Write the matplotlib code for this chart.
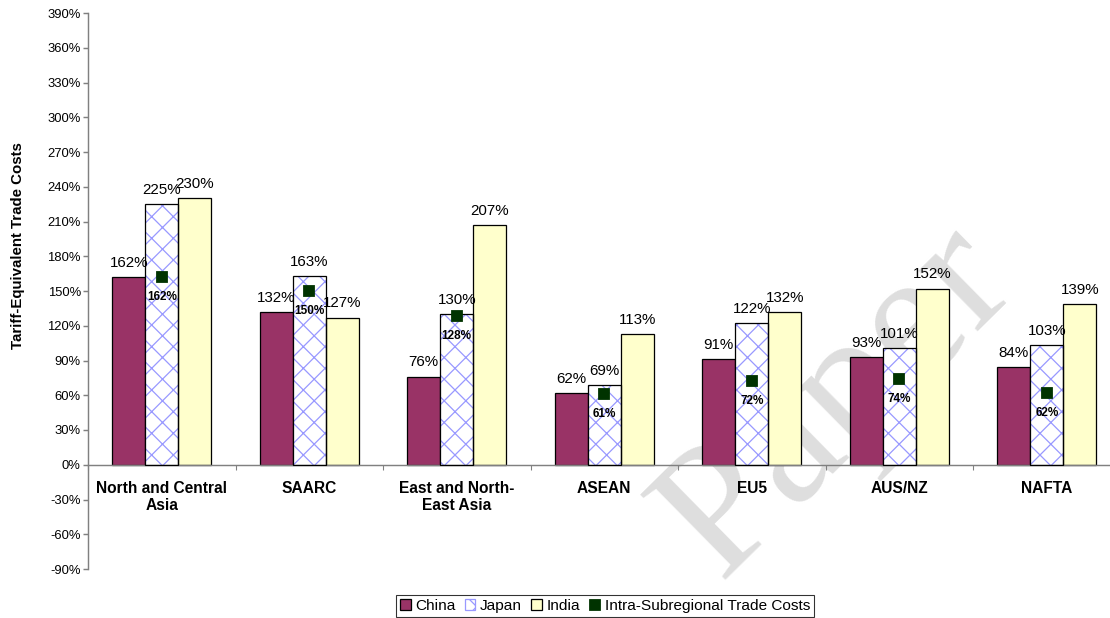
import numpy as np
import matplotlib.pyplot as plt
from matplotlib.patches import Patch
from matplotlib.lines import Line2D
from matplotlib.ticker import FuncFormatter, FixedLocator

plt.rcParams['font.family'] = ['Liberation Sans', 'DejaVu Sans']
plt.rcParams['hatch.linewidth'] = 0.7

regions = ['North and Central\nAsia', 'SAARC', 'East and North-\nEast Asia',
           'ASEAN', 'EU5', 'AUS/NZ', 'NAFTA']
china = [162, 132, 76, 62, 91, 93, 84]
japan = [225, 163, 130, 69, 122, 101, 103]
india = [230, 127, 207, 113, 132, 152, 139]
intra = [162, 150, 128, 61, 72, 74, 62]

x = np.arange(len(regions))
width = 0.224

fig = plt.figure(figsize=(1110 / 130, 618 / 130), dpi=130)
ax = fig.add_axes([88 / 1110, 49 / 618, 1 - 88 / 1110, 556 / 618])

# spine position first: moving it resets the ticks
for s in ['top', 'right']:
    ax.spines[s].set_visible(False)
ax.spines['bottom'].set_position(('data', 0))
ax.spines['left'].set_color('#808080')
ax.spines['bottom'].set_color('#808080')

# watermark behind the bars
ax.text(0.755, 0.35, 'Paper', transform=fig.transFigure, family='Liberation Serif',
        fontsize=102, color='#dedede', rotation=44.5, ha='center', va='center',
        zorder=0, clip_on=False)

ax.bar(x - width, china, width, color='#993366', edgecolor='black', lw=0.7, zorder=2)
ax.bar(x, japan, width, color='white', edgecolor='#9999ff', hatch='xx', lw=0, zorder=2)
ax.bar(x, japan, width, fill=False, edgecolor='black', lw=0.7, zorder=3)
ax.bar(x + width, india, width, color='#ffffcc', edgecolor='black', lw=0.7, zorder=2)
ax.plot(x, intra, 's', color='#003300', ms=5, zorder=4)

for xs, vals in [(x - width, china), (x, japan), (x + width, india)]:
    for xi, v in zip(xs, vals):
        ax.annotate(f'{v}%', (xi, v), xytext=(0, 4), textcoords='offset points',
                    ha='center', va='bottom', fontsize=8.4, zorder=5)
for xi, v in zip(x, intra):
    ax.annotate(f'{v}%', (xi, v), xytext=(0, -11), textcoords='offset points',
                ha='center', va='center', fontsize=6.5, fontweight='bold', zorder=5)

ax.set_ylim(-90, 390)
ax.set_xlim(-0.5, -0.5 + 1022 / 147.5)
ax.tick_params(axis='x', which='major', length=0, pad=9)
ax.tick_params(axis='x', which='minor', length=2.5, direction='out', color='#808080')
ax.tick_params(axis='y', length=2.5, direction='out', color='#808080', labelsize=7.2, pad=1.5)
ax.set_yticks(np.arange(-90, 391, 30))
ax.yaxis.set_major_formatter(FuncFormatter(lambda v, p: f'{v:.0f}%'))
ax.set_xticks(x)
ax.set_xticklabels(regions, fontweight='bold', fontsize=8.6)
ax.xaxis.set_minor_locator(FixedLocator(np.arange(-0.5, 7, 1)))

ax.set_ylabel('Tariff-Equivalent Trade Costs', fontweight='bold', fontsize=8.3)
ax.yaxis.set_label_coords(-0.062, 0.581)

handles = [Patch(facecolor='#993366', edgecolor='black', lw=0.7),
           Patch(facecolor='white', edgecolor='#9999ff', hatch='xx', lw=0.7),
           Patch(facecolor='#ffffcc', edgecolor='black', lw=0.7),
           Line2D([], [], marker='s', color='#003300', ls='none', ms=5)]
leg = fig.legend(handles, ['China', 'Japan', 'India', 'Intra-Subregional Trade Costs'],
                 loc='center', bbox_to_anchor=(605 / 1110, 12 / 618), ncol=4,
                 fontsize=8.5, frameon=True, fancybox=False, edgecolor='black',
                 handlelength=0.7, handleheight=0.7, handletextpad=0.3,
                 columnspacing=0.6, borderpad=0.25, borderaxespad=0)
leg.get_frame().set_linewidth(0.6)

fig.savefig('out.png', dpi=130)
